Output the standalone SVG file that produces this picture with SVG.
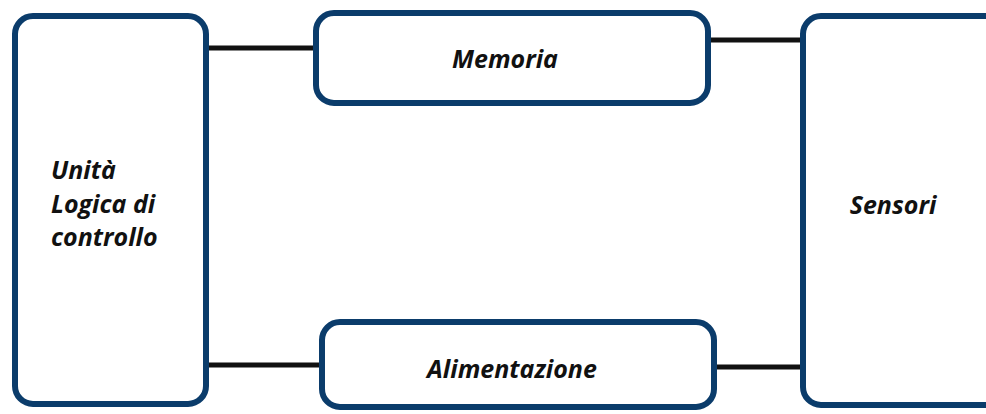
<svg xmlns="http://www.w3.org/2000/svg" width="986" height="414" viewBox="0 0 986 414">
  <style>
    .box { fill: #ffffff; stroke: #0b3c6b; stroke-width: 6; }
    .wire { stroke: #111111; stroke-width: 5; fill: none; }
    .lbl { font-family: "Open Sans", "Liberation Sans", sans-serif; font-weight: bold; font-style: italic; font-size: 25px; fill: #111111; }
  </style>
  <rect width="986" height="414" fill="#ffffff"/>

  <!-- connectors -->
  <g id="connectors">
    <line class="wire" x1="209" y1="48" x2="313" y2="48"/>
    <line class="wire" x1="711" y1="40" x2="800" y2="40"/>
    <line class="wire" x1="209" y1="365" x2="319" y2="365"/>
    <line class="wire" x1="717" y1="367" x2="800" y2="367"/>
  </g>

  <g id="unita-logica">
    <rect class="box" x="15" y="16" width="191" height="388" rx="18"/>
    <text class="lbl" x="51" y="179">Unità</text>
    <text class="lbl" x="51" y="213">Logica di</text>
    <text class="lbl" x="51" y="246">controllo</text>
  </g>

  <g id="memoria">
    <rect class="box" x="316" y="13" width="392" height="90" rx="18"/>
    <text class="lbl" x="505" y="68" text-anchor="middle">Memoria</text>
  </g>

  <g id="alimentazione">
    <rect class="box" x="322" y="322" width="392" height="85" rx="18"/>
    <text class="lbl" x="512" y="378" text-anchor="middle">Alimentazione</text>
  </g>

  <g id="sensori">
    <rect class="box" x="803" y="16" width="210" height="389" rx="18"/>
    <text class="lbl" x="893" y="214" text-anchor="middle">Sensori</text>
  </g>
</svg>
